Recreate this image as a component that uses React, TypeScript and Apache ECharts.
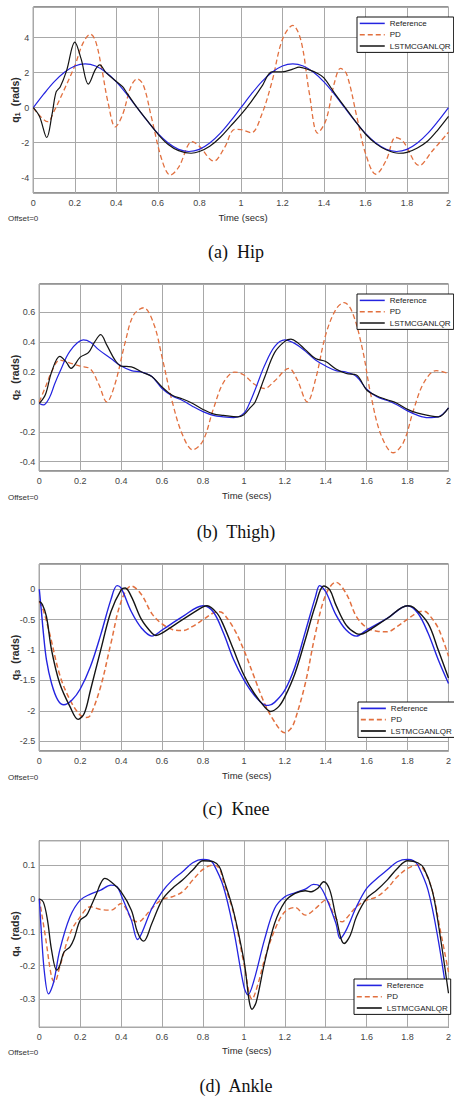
import { useEffect, useRef } from 'react';
import * as echarts from 'echarts';

// ---------- data (time in s, angle in rad) ----------
const xTicksMax = 2;

const hipRef: number[][] = [[0,0],[0.05,0.77],[0.1,1.47],[0.15,2.02],[0.2,2.38],[0.25,2.5],[0.3,2.38],[0.35,2.02],[0.4,1.47],[0.45,0.77],[0.5,0],[0.55,-0.77],[0.6,-1.47],[0.65,-2.02],[0.7,-2.38],[0.75,-2.5],[0.8,-2.38],[0.85,-2.02],[0.9,-1.47],[0.95,-0.77],[1,0],[1.05,0.77],[1.1,1.47],[1.15,2.02],[1.2,2.38],[1.25,2.5],[1.3,2.38],[1.35,2.02],[1.4,1.47],[1.45,0.77],[1.5,0],[1.55,-0.77],[1.6,-1.47],[1.65,-2.02],[1.7,-2.38],[1.75,-2.5],[1.8,-2.38],[1.85,-2.02],[1.9,-1.47],[1.95,-0.77],[2,0]];
const hipPd: number[][] = [[0,0],[0.03,-0.45],[0.07,-0.8],[0.1,-0.2],[0.14,0.8],[0.2,2.4],[0.24,3.7],[0.275,4.2],[0.3,3.8],[0.33,2.2],[0.36,0.3],[0.395,-1.1],[0.43,-0.4],[0.47,1.2],[0.5,1.65],[0.53,1.3],[0.57,-0.6],[0.62,-3.0],[0.66,-3.85],[0.7,-3.4],[0.765,-1.94],[0.8,-2.2],[0.87,-3.05],[0.92,-2.3],[0.97,-1.24],[1.0,-1.25],[1.05,-1.43],[1.1,-0.4],[1.15,1.5],[1.2,3.9],[1.25,4.7],[1.29,3.8],[1.33,0.8],[1.37,-1.45],[1.41,-0.7],[1.45,1.4],[1.48,2.25],[1.51,1.9],[1.56,-0.6],[1.6,-2.6],[1.65,-3.8],[1.7,-3.0],[1.745,-1.7],[1.78,-1.9],[1.86,-3.3],[1.92,-2.5],[2,-1.4]];
const hipLqr: number[][] = [[0,0],[0.03,-0.5],[0.065,-1.7],[0.09,-0.4],[0.11,0.9],[0.13,1.2],[0.16,2.1],[0.2,3.75],[0.23,2.8],[0.265,1.35],[0.3,2.2],[0.32,2.45],[0.35,2.0],[0.4,1.5],[0.43,1.2],[0.45,0.85],[0.5,0.0],[0.55,-0.75],[0.6,-1.5],[0.65,-2.1],[0.7,-2.45],[0.76,-2.6],[0.8,-2.5],[0.85,-2.2],[0.9,-1.7],[0.95,-1.05],[1.0,-0.4],[1.05,0.35],[1.1,1.2],[1.15,2.05],[1.2,2.05],[1.25,2.2],[1.28,2.32],[1.32,2.2],[1.37,1.95],[1.4,1.7],[1.45,0.85],[1.5,0.05],[1.55,-0.75],[1.6,-1.5],[1.65,-2.05],[1.7,-2.4],[1.76,-2.6],[1.8,-2.55],[1.85,-2.3],[1.9,-1.9],[1.95,-1.25],[2.0,-0.5]];

const thighRef: number[][] = [[0,-0.01],[0.02,-0.02],[0.05,0.03],[0.075,0.12],[0.1,0.2],[0.15,0.34],[0.215,0.415],[0.25,0.4],[0.29,0.35],[0.35,0.29],[0.4,0.24],[0.45,0.21],[0.5,0.2],[0.55,0.17],[0.6,0.09],[0.65,0.04],[0.7,0.01],[0.75,-0.03],[0.8,-0.065],[0.85,-0.09],[0.9,-0.1],[0.95,-0.105],[1.0,-0.075],[1.03,0],[1.06,0.1],[1.1,0.24],[1.15,0.37],[1.2,0.415],[1.25,0.39],[1.3,0.34],[1.35,0.28],[1.4,0.24],[1.45,0.21],[1.5,0.2],[1.55,0.17],[1.6,0.085],[1.65,0.035],[1.7,0.01],[1.75,-0.02],[1.8,-0.06],[1.85,-0.09],[1.9,-0.105],[1.95,-0.1],[2.0,-0.04]];
const thighPd: number[][] = [[0,0],[0.03,0.1],[0.06,0.2],[0.1,0.28],[0.15,0.26],[0.2,0.24],[0.25,0.22],[0.29,0.12],[0.33,0],[0.37,0.12],[0.42,0.4],[0.46,0.58],[0.51,0.63],[0.56,0.52],[0.6,0.3],[0.65,0.0],[0.7,-0.22],[0.75,-0.32],[0.8,-0.26],[0.85,-0.05],[0.9,0.13],[0.955,0.2],[1.0,0.18],[1.05,0.12],[1.1,0.09],[1.15,0.14],[1.22,0.225],[1.26,0.15],[1.31,0],[1.35,0.15],[1.4,0.45],[1.45,0.62],[1.49,0.665],[1.53,0.6],[1.58,0.35],[1.62,0.05],[1.67,-0.22],[1.73,-0.34],[1.78,-0.27],[1.83,-0.05],[1.88,0.13],[1.94,0.21],[2.0,0.19]];
const thighLqr: number[][] = [[0,-0.01],[0.03,0.05],[0.06,0.2],[0.1,0.305],[0.13,0.27],[0.155,0.225],[0.2,0.3],[0.24,0.33],[0.27,0.4],[0.3,0.45],[0.33,0.38],[0.37,0.28],[0.4,0.24],[0.45,0.235],[0.5,0.2],[0.55,0.17],[0.6,0.1],[0.65,0.045],[0.7,0.02],[0.75,-0.01],[0.8,-0.05],[0.85,-0.08],[0.9,-0.09],[0.97,-0.1],[1.0,-0.085],[1.03,-0.04],[1.055,0],[1.1,0.16],[1.15,0.33],[1.2,0.405],[1.23,0.42],[1.26,0.4],[1.3,0.35],[1.35,0.29],[1.4,0.27],[1.45,0.22],[1.5,0.19],[1.55,0.18],[1.6,0.08],[1.65,0.04],[1.7,0.015],[1.75,-0.01],[1.8,-0.05],[1.85,-0.075],[1.9,-0.09],[1.95,-0.1],[2.0,-0.04]];

const kneeRef: number[][] = [[0,0],[0.01,-0.35],[0.02,-0.72],[0.035,-1.16],[0.06,-1.55],[0.09,-1.82],[0.12,-1.9],[0.16,-1.82],[0.2,-1.64],[0.25,-1.27],[0.3,-0.75],[0.35,-0.17],[0.38,0.06],[0.4,0.02],[0.45,-0.37],[0.5,-0.64],[0.55,-0.77],[0.6,-0.67],[0.7,-0.45],[0.8,-0.27],[0.85,-0.37],[0.9,-0.72],[0.95,-1.16],[1.0,-1.49],[1.05,-1.74],[1.1,-1.9],[1.12,-1.91],[1.15,-1.86],[1.2,-1.66],[1.25,-1.27],[1.3,-0.7],[1.35,-0.12],[1.37,0.06],[1.4,-0.04],[1.45,-0.42],[1.5,-0.67],[1.55,-0.77],[1.6,-0.67],[1.7,-0.48],[1.8,-0.27],[1.85,-0.39],[1.9,-0.72],[1.95,-1.16],[2.0,-1.55]];
const kneePd: number[][] = [[0,-0.2],[0.02,-0.35],[0.05,-0.72],[0.1,-1.41],[0.15,-1.82],[0.2,-2.07],[0.23,-2.11],[0.25,-2.07],[0.3,-1.6],[0.35,-0.89],[0.4,-0.2],[0.45,0.055],[0.5,-0.09],[0.55,-0.4],[0.6,-0.57],[0.65,-0.66],[0.7,-0.68],[0.75,-0.61],[0.8,-0.5],[0.85,-0.39],[0.88,-0.37],[0.9,-0.4],[0.95,-0.64],[1.0,-1.0],[1.05,-1.44],[1.1,-1.87],[1.15,-2.18],[1.2,-2.36],[1.23,-2.29],[1.25,-2.15],[1.3,-1.55],[1.35,-0.72],[1.4,-0.09],[1.45,0.115],[1.5,-0.07],[1.55,-0.45],[1.6,-0.63],[1.65,-0.69],[1.7,-0.7],[1.75,-0.61],[1.8,-0.49],[1.85,-0.38],[1.88,-0.36],[1.9,-0.4],[1.95,-0.64],[2.0,-1.1]];
const kneeLqr: number[][] = [[0,-0.2],[0.015,-0.25],[0.035,-0.45],[0.06,-1.0],[0.1,-1.55],[0.15,-1.93],[0.19,-2.14],[0.22,-2.04],[0.25,-1.66],[0.3,-1.0],[0.35,-0.37],[0.4,-0.01],[0.42,0.02],[0.45,-0.12],[0.5,-0.5],[0.55,-0.72],[0.57,-0.76],[0.6,-0.72],[0.7,-0.5],[0.8,-0.29],[0.82,-0.27],[0.87,-0.4],[0.9,-0.59],[0.95,-1.0],[1.0,-1.41],[1.05,-1.71],[1.1,-1.93],[1.13,-2.01],[1.17,-1.93],[1.2,-1.77],[1.25,-1.38],[1.3,-0.83],[1.35,-0.26],[1.39,0.055],[1.42,-0.01],[1.45,-0.26],[1.5,-0.59],[1.55,-0.73],[1.57,-0.74],[1.6,-0.7],[1.7,-0.48],[1.8,-0.27],[1.83,-0.3],[1.9,-0.56],[1.95,-1.0],[2.0,-1.46]];

const ankleRef: number[][] = [[0,0],[0.01,-0.1],[0.025,-0.22],[0.045,-0.285],[0.07,-0.25],[0.1,-0.154],[0.15,-0.054],[0.2,-0.004],[0.25,0.014],[0.3,0.026],[0.35,0.041],[0.38,0.036],[0.4,0.011],[0.45,-0.064],[0.48,-0.122],[0.5,-0.104],[0.55,-0.029],[0.6,0.021],[0.65,0.056],[0.7,0.081],[0.75,0.108],[0.8,0.118],[0.83,0.116],[0.85,0.106],[0.9,0.036],[0.95,-0.094],[1.0,-0.263],[1.02,-0.288],[1.05,-0.243],[1.1,-0.124],[1.15,-0.029],[1.2,0.006],[1.25,0.018],[1.3,0.029],[1.34,0.043],[1.37,0.038],[1.4,0.006],[1.45,-0.074],[1.47,-0.119],[1.5,-0.094],[1.55,-0.024],[1.6,0.031],[1.65,0.061],[1.7,0.086],[1.75,0.111],[1.8,0.118],[1.83,0.114],[1.85,0.101],[1.9,0.026],[1.95,-0.124],[2.0,-0.323]];
const anklePd: number[][] = [[0,0],[0.03,-0.114],[0.06,-0.234],[0.075,-0.249],[0.1,-0.204],[0.15,-0.104],[0.2,-0.054],[0.25,-0.024],[0.3,-0.032],[0.35,-0.034],[0.4,-0.014],[0.45,-0.059],[0.48,-0.069],[0.5,-0.064],[0.55,-0.029],[0.6,-0.002],[0.65,0.006],[0.7,0.021],[0.75,0.056],[0.8,0.088],[0.85,0.101],[0.88,0.091],[0.9,0.051],[0.95,-0.044],[1.0,-0.194],[1.04,-0.301],[1.07,-0.253],[1.1,-0.184],[1.15,-0.094],[1.2,-0.039],[1.25,-0.026],[1.3,-0.049],[1.35,-0.029],[1.4,-0.004],[1.45,-0.059],[1.48,-0.069],[1.5,-0.059],[1.55,-0.024],[1.6,-0.004],[1.65,0.006],[1.7,0.031],[1.75,0.066],[1.8,0.091],[1.85,0.101],[1.88,0.086],[1.92,0.026],[1.96,-0.094],[2.0,-0.22]];
const ankleLqr: number[][] = [[0,0],[0.02,-0.01],[0.04,-0.064],[0.06,-0.154],[0.085,-0.214],[0.1,-0.2],[0.12,-0.16],[0.15,-0.144],[0.17,-0.12],[0.2,-0.064],[0.23,-0.05],[0.25,-0.026],[0.28,0.016],[0.3,0.046],[0.32,0.061],[0.35,0.051],[0.4,0.021],[0.45,-0.034],[0.48,-0.1],[0.51,-0.127],[0.55,-0.074],[0.6,-0.004],[0.65,0.031],[0.7,0.056],[0.75,0.086],[0.8,0.114],[0.85,0.111],[0.88,0.096],[0.9,0.061],[0.95,-0.039],[1.0,-0.184],[1.04,-0.331],[1.06,-0.31],[1.1,-0.194],[1.15,-0.074],[1.2,-0.009],[1.25,0.016],[1.3,0.024],[1.33,0.021],[1.36,0.031],[1.39,0.051],[1.42,0.026],[1.45,-0.054],[1.49,-0.134],[1.52,-0.109],[1.55,-0.054],[1.6,0.001],[1.65,0.026],[1.7,0.056],[1.75,0.091],[1.8,0.114],[1.85,0.108],[1.88,0.091],[1.92,0.026],[1.95,-0.074],[2.0,-0.283]];

const seriesNames = ['Reference', 'PD', 'LSTMCGANLQR'];
const captions = ['(a)  Hip', '(b)  Thigh)', '(c)  Knee', '(d)  Ankle'];
const subscripts = ['1', '2', '3', '4'];
const yRanges = [
  { min: -4.87, max: 5.75, step: 2 },
  { min: -0.462, max: 0.789, step: 0.2 },
  { min: -2.66, max: 0.416, step: 0.5 },
  { min: -0.385, max: 0.174, step: 0.1 },
];

// ---------- layout ----------
const W = 454;
const H = 1098;
const SANS = "'Liberation Sans Narrow', 'Arial Narrow', 'Liberation Sans', Arial, sans-serif";
const SERIF = "'Liberation Serif', 'Times New Roman', serif";
const COLORS = { ref: '#2424e0', pd: '#e2703f', lqr: '#141414' };

const layouts = [
  { left: 33.3, top: 7, height: 186, legend: { left: 357, top: 17 }, capY: 252, offY: 218, timeY: 217, timeX: 243, lw: 1.2 },
  { left: 39.3, top: 284, height: 187, legend: { left: 357, top: 294 }, capY: 531.7, offY: 497.7, timeY: 495, timeX: 246.7, lw: 1.2 },
  { left: 39.3, top: 564, height: 187, legend: { left: 358, top: 702 }, capY: 809, offY: 777.7, timeY: 775, timeX: 246.7, lw: 1.4 },
  { left: 39.3, top: 840.7, height: 186.6, legend: { left: 354, top: 979 }, capY: 1086, offY: 1052.7, timeY: 1050, timeX: 246.7, lw: 1.3 },
];

const panelData = [
  [hipRef, hipPd, hipLqr],
  [thighRef, thighPd, thighLqr],
  [kneeRef, kneePd, kneeLqr],
  [ankleRef, anklePd, ankleLqr],
];

function buildOption() {
  const grid: any[] = [];
  const xAxis: any[] = [];
  const yAxis: any[] = [];
  const series: any[] = [];
  const legend: any[] = [];
  const graphic: any[] = [];

  layouts.forEach((L, i) => {
    grid.push({
      left: L.left,
      top: L.top,
      width: W - L.left,
      height: L.height,
      show: true,
      borderColor: '#2a2a2a',
      borderWidth: 1,
      backgroundColor: '#ffffff',
    });
    xAxis.push({
      type: 'value',
      gridIndex: i,
      min: 0,
      max: xTicksMax,
      interval: 0.2,
      axisLine: { show: false },
      axisTick: { show: false },
      splitLine: { show: true, lineStyle: { color: '#a8a8a8', width: 1 } },
      axisLabel: { fontSize: 9, color: '#444', margin: 5, fontFamily: SANS },
    });
    const yr = yRanges[i];
    yAxis.push({
      type: 'value',
      gridIndex: i,
      min: yr.min,
      max: yr.max,
      minInterval: yr.step,
      maxInterval: yr.step,
      axisLine: { show: false },
      axisTick: { show: false },
      splitLine: { show: true, lineStyle: { color: '#a8a8a8', width: 1 } },
      axisLabel: {
        fontSize: 9,
        color: '#444',
        margin: 4,
        fontFamily: SANS,
        showMinLabel: false,
        showMaxLabel: false,
      },
    });
    const [ref, pd, lqr] = panelData[i];
    const common = {
      type: 'line',
      xAxisIndex: i,
      yAxisIndex: i,
      symbol: 'none',
      showSymbol: false,
      smooth: 0.35,
      clip: true,
    };
    series.push({ ...common, name: seriesNames[0], data: ref, z: 3, lineStyle: { color: COLORS.ref, width: L.lw }, itemStyle: { color: COLORS.ref } });
    series.push({ ...common, name: seriesNames[1], data: pd, z: 2, lineStyle: { color: COLORS.pd, width: L.lw + 0.1, type: [5, 3] }, itemStyle: { color: COLORS.pd } });
    series.push({ ...common, name: seriesNames[2], data: lqr, z: 4, lineStyle: { color: COLORS.lqr, width: L.lw }, itemStyle: { color: COLORS.lqr } });

    const lw = L.lw + 0.3;
    legend.push({
      orient: 'vertical',
      left: L.legend.left,
      top: L.legend.top,
      align: 'left',
      itemWidth: 25,
      itemHeight: 11,
      itemGap: 2.5,
      itemTextGap: 2,
      padding: [2, 3, 2, 2],
      borderColor: '#111',
      borderWidth: 1,
      borderRadius: 0,
      backgroundColor: '#ffffff',
      selectedMode: false,
      itemStyle: { opacity: 0 },
      textStyle: { fontSize: 8, color: '#222', fontFamily: SANS },
      data: [
        { name: seriesNames[0], itemStyle: { opacity: 0 }, lineStyle: { color: COLORS.ref, width: lw, opacity: 1 } },
        { name: seriesNames[1], itemStyle: { opacity: 0 }, lineStyle: { color: COLORS.pd, width: lw, type: [5, 3], opacity: 1 } },
        { name: seriesNames[2], itemStyle: { opacity: 0 }, lineStyle: { color: COLORS.lqr, width: lw, opacity: 1 } },
      ],
    });

    const cy = L.top + L.height / 2;
    graphic.push({
      type: 'text',
      x: 15,
      y: cy,
      rotation: Math.PI / 2,
      style: {
        text: '{a|q}{b|' + subscripts[i] + '}{a|  (rads)}',
        align: 'center',
        verticalAlign: 'middle',
        rich: {
          a: { fontSize: 10.5, fontWeight: 'bold', fill: '#2a2a2a', fontFamily: SANS, lineHeight: 13 },
          b: { fontSize: 7.5, fontWeight: 'bold', fill: '#2a2a2a', fontFamily: SANS, lineHeight: 7, verticalAlign: 'bottom' },
        },
      },
    });
    graphic.push({
      type: 'text',
      x: L.timeX,
      y: L.timeY,
      style: { text: 'Time (secs)', fontSize: 9.5, fill: '#2a2a2a', fontFamily: SANS, align: 'center', verticalAlign: 'middle' },
    });
    graphic.push({
      type: 'text',
      x: 8,
      y: L.offY,
      style: { text: 'Offset=0', fontSize: 8, fill: '#333', fontFamily: SANS, align: 'left', verticalAlign: 'middle' },
    });
    graphic.push({
      type: 'text',
      x: 236,
      y: L.capY,
      style: { text: captions[i], fontSize: 18, fill: '#111', fontFamily: SERIF, align: 'center', verticalAlign: 'middle' },
    });
  });

  return {
    animation: false,
    backgroundColor: '#ffffff',
    grid,
    xAxis,
    yAxis,
    series,
    legend,
    graphic,
  };
}

export default function App() {
  const ref = useRef<HTMLDivElement>(null);
  useEffect(() => {
    if (!ref.current) return;
    const chart = echarts.init(ref.current, undefined, { renderer: 'svg', width: W, height: H });
    chart.setOption(buildOption() as any);
    return () => chart.dispose();
  }, []);
  return <div ref={ref} style={{ position: 'absolute', left: 0, top: 0, width: W, height: H }} />;
}
